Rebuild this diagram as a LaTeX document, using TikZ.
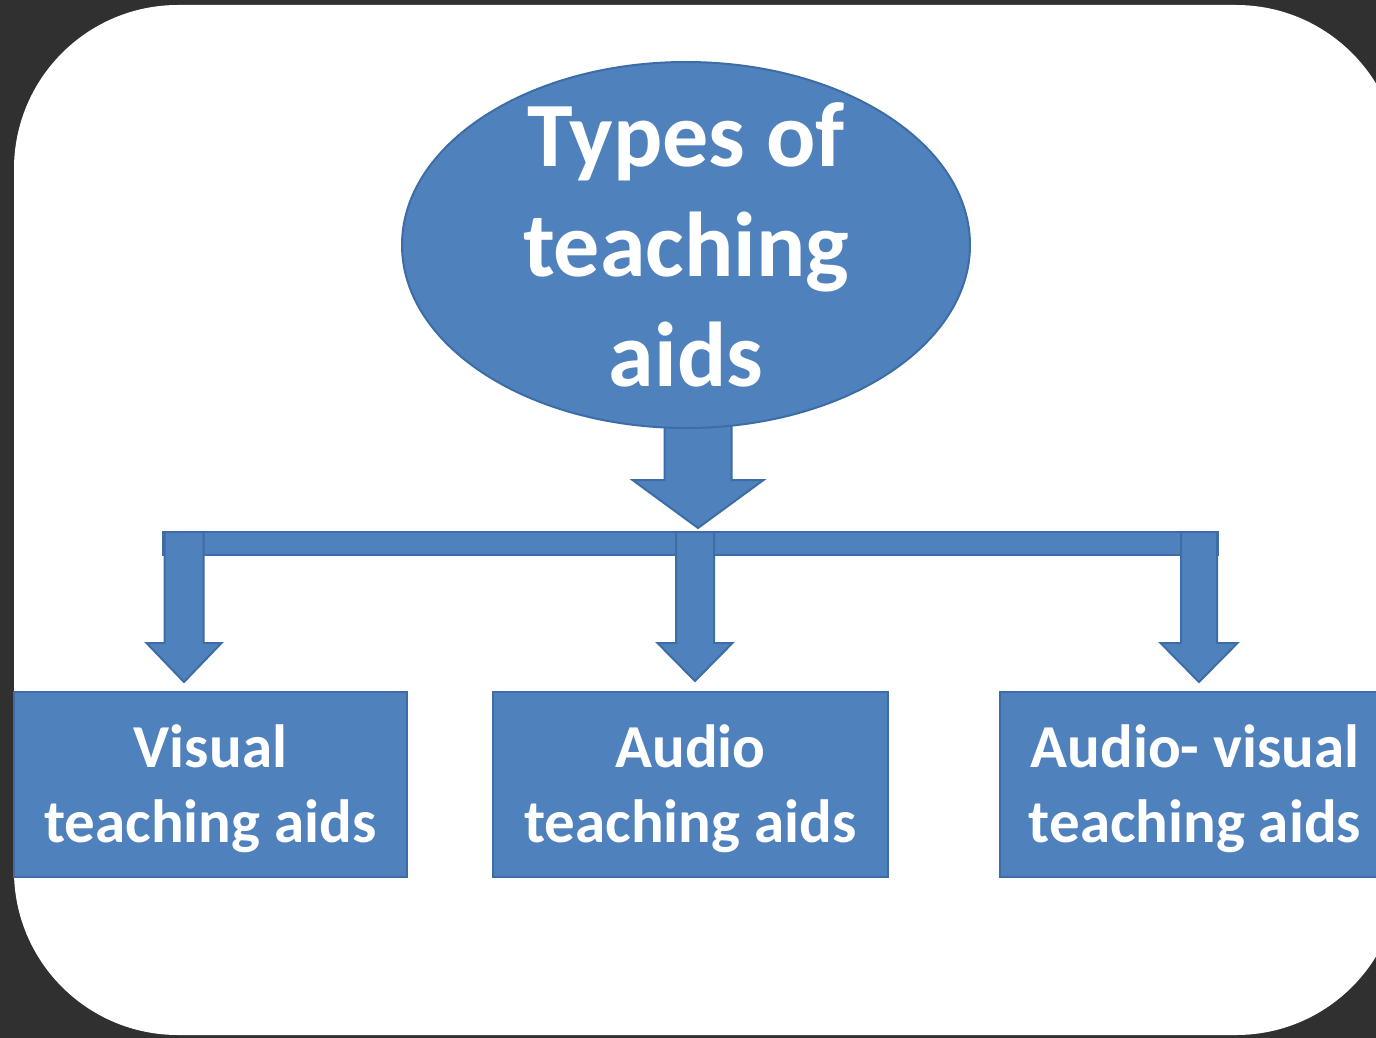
\documentclass[tikz,border=0pt]{standalone}
\usepackage{fontspec}
\setmainfont{Carlito}
\usetikzlibrary{shapes.geometric}

\definecolor{aidblue}{HTML}{4F81BD}
\definecolor{aidedge}{HTML}{3D6DA6}
\definecolor{bgdark}{HTML}{303030}

\tikzset{
  bubble/.style={ellipse, fill=aidblue, draw=aidedge, line width=1pt,
    minimum width=284pt, minimum height=183pt, inner xsep=0pt, inner ysep=-14pt,
    text=white, align=center, font=\bfseries\fontsize{46}{55}\selectfont},
  aidbox/.style={rectangle, fill=aidblue, draw=aidedge, line width=1pt,
    minimum height=92.5pt, inner sep=0pt, text=white, text depth=0pt,
    align=center, font=\bfseries\fontsize{30.5}{37.5}\selectfont},
  blockarrow/.style={fill=aidblue, draw=aidedge, line width=1pt, line join=miter}
}

% tip, head half width, shaft half width, head length, shaft length
\newcommand{\downblock}[5]{\filldraw[blockarrow] (#1) -- ++(-#2,-#4) -- ++(#2-#3,0)
  -- ++(0,-#5) -- ++(2*#3,0) -- ++(0,#5) -- ++(#2-#3,0) -- cycle;}

\begin{document}
\begin{tikzpicture}[x=0.5pt, y=-0.5pt]
  \useasboundingbox (0,0) rectangle (1376,1038);
  \fill[bgdark] (0,0) rectangle (1376,1038);
  \fill[white, rounded corners=82pt] (14,5) rectangle (1400,1035);

  % boxes
  \node[aidbox, minimum width=196.5pt] (visual) at (210.5,784) {Visual\\teaching aids};
  \node[aidbox, minimum width=197.5pt] (audio) at (690.5,784) {Audio\\teaching aids};
  \node[aidbox, minimum width=195pt] (audiovis) at (1195,784) {Audio- visual\\teaching aids};

  % bar and arrows
  \coordinate (hub) at (698,528);
  \coordinate (tipV) at (184,682);
  \coordinate (tipA) at (695,681);
  \coordinate (tipAV) at (1199,682);
  \filldraw[blockarrow] (163,532) rectangle (1218,555);
  \downblock{hub}{65.5}{33.5}{48}{56}
  \downblock{tipV}{37.5}{19.5}{39}{111}
  \downblock{tipA}{37.5}{19}{38}{111}
  \downblock{tipAV}{38.5}{18}{39}{111}

  \node[bubble] (types) at (686,245) {Types of\\teaching\\aids};
\end{tikzpicture}
\end{document}
